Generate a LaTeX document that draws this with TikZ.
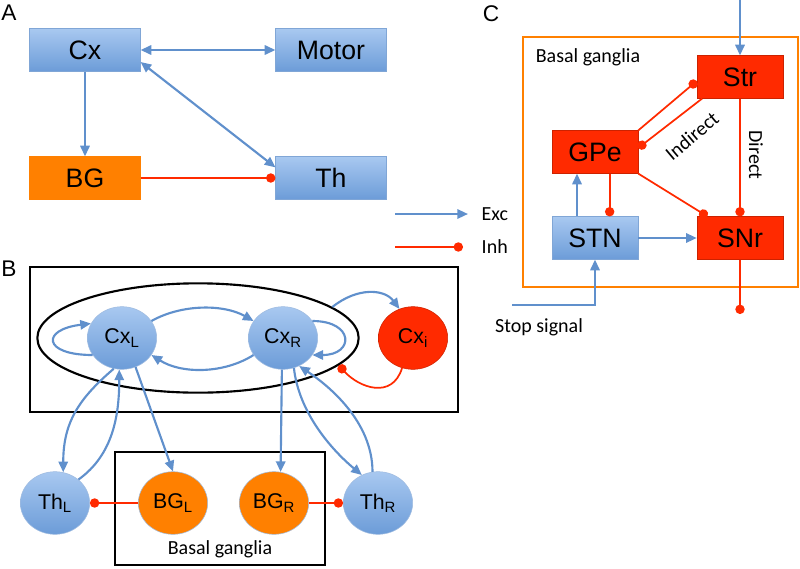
\documentclass[tikz,border=0pt]{standalone}
\usepackage{fontspec}
\setmainfont{Liberation Sans}
\newfontfamily\labelfont{Carlito}
\usetikzlibrary{arrows.meta,shapes.geometric}

\definecolor{boxblue}{RGB}{168,200,240}
\definecolor{boxbluedark}{RGB}{108,156,216}
\definecolor{lineblue}{RGB}{96,144,204}
\definecolor{inhred}{RGB}{255,42,0}
\definecolor{bgorange}{RGB}{255,128,0}

\tikzset{
  bluebox/.style={draw=lineblue!80,top color=boxblue,bottom color=boxbluedark,minimum width=83pt,minimum height=32pt,inner sep=0pt,font=\fontsize{20}{22}\selectfont},
  redbox/.style={bluebox,fill=inhred,top color=inhred,bottom color=inhred,draw=inhred!80!black},
  orangebox/.style={bluebox,top color=bgorange,bottom color=bgorange,draw=bgorange},
  cbox/.style={minimum width=64.5pt},
  bluecell/.style={ellipse,draw=lineblue!60,top color=boxblue,bottom color=boxbluedark,minimum width=52pt,minimum height=47pt,inner sep=0pt,font=\fontsize{16}{18}\selectfont},
  redcell/.style={bluecell,top color=inhred,bottom color=inhred,draw=inhred!80!black},
  orangecell/.style={bluecell,top color=bgorange,bottom color=bgorange,draw=lineblue!60},
  exc/.style={draw=lineblue,line width=1.6pt,-{Triangle[length=8pt,width=7pt]}},
  excboth/.style={exc,{Triangle[length=8pt,width=7pt]}-{Triangle[length=8pt,width=7pt]}},
  inh/.style={draw=inhred,line width=1.3pt,-{Circle[length=7pt]}},
  paneltag/.style={font=\fontsize{17}{19}\selectfont},
  gtext/.style={font=\labelfont\fontsize{15}{17}\selectfont}
}

\begin{document}
\begin{tikzpicture}[x=0.75pt,y=0.75pt,yscale=-1,xscale=1]
\useasboundingbox (0,0) rectangle (800,568);

%Panel A
\node[paneltag] (tagA) at (9,13) {A};
\node[bluebox] (Cx) at (85,50) {Cx};
\node[bluebox] (Motor) at (331,50) {Motor};
\node[orangebox] (BG) at (85,178) {BG};
\node[bluebox] (Th) at (331,178) {Th};
\draw[excboth] (Cx) -- (Motor);
\draw[excboth] ([yshift=9pt]Cx.east) -- ([yshift=-8pt]Th.west);
\draw[exc] (Cx) -- (BG);
\draw[inh] (BG) -- (Th);

%Legend
\coordinate (exc0) at (395,214);
\coordinate (exc1) at (468,214);
\coordinate (inh0) at (395,247);
\coordinate (inh1) at (463,247);
\draw[exc] (exc0) -- (exc1);
\draw[inh] (inh0) -- (inh1);
\node[gtext,anchor=west] (excname) at (477,214) {Exc};
\node[gtext,anchor=west] (inhname) at (477,247) {Inh};

%Panel B
\node[paneltag] (tagB) at (9,269) {B};
\draw[line width=1.3pt] (30,267) rectangle (458,412);
\draw[line width=1.3pt] (115,452) rectangle (325,565);
\node[ellipse,draw,line width=1.6pt,minimum width=241pt,minimum height=82pt] (cortex) at (198,338) {};
\node[bluecell] (CxL) at (122,338) {Cx\textsubscript{L}};
\node[bluecell] (CxR) at (283,338) {Cx\textsubscript{R}};
\node[redcell] (Cxi) at (413,338) {Cx\textsubscript{i}};
\node[bluecell] (ThL) at (55,503) {Th\textsubscript{L}};
\node[orangecell] (BGL) at (173,503) {BG\textsubscript{L}};
\node[orangecell] (BGR) at (274,503) {BG\textsubscript{R}};
\node[bluecell] (ThR) at (378,503) {Th\textsubscript{R}};
\node[gtext] (bgname) at (220,549) {Basal ganglia};
%cortex loops
\draw[exc] (CxL.210) .. controls +(-50,0) and +(-50,6) .. (CxL.155);
\draw[exc] (CxL.30) .. controls +(30,-17) and +(-30,-17) .. (CxR.150);
\draw[exc] (CxR.210) .. controls +(-30,19) and +(30,19) .. (CxL.330);
\draw[exc] (CxR.30) .. controls +(42,0) and +(42,0) .. (CxR.330);
\draw[exc] (cortex.13) .. controls +(25,-20) and +(-15,-20) .. (Cxi.115);
\draw[inh] (Cxi.250) .. controls +(-10,32) and +(20,22) .. (cortex.-11);
%thalamus and basal ganglia
\draw[exc] (CxL.255) .. controls +(-35,30) and +(0,-50) .. (ThL.75);
\draw[exc] (ThL.45) .. controls +(35,-25) and +(0,45) .. (CxL.265);
\draw[exc] (CxL.295) -- (BGL.north);
\draw[exc] (CxR.268) -- (BGR.78);
\draw[exc] (CxR.290) .. controls +(5,45) and +(-30,-25) .. (ThR.120);
\draw[exc] (ThR.100) .. controls +(0,-50) and +(30,20) .. (CxR.300);
\draw[inh] (BGL) -- (ThL);
\draw[inh] (BGR) -- (ThR);

%Panel C
\node[paneltag] (tagC) at (491,14) {C};
\draw[draw=bgorange,line width=1.3pt] (523,37) rectangle (798,287);
\node[gtext] (bgtitle) at (588,57) {Basal ganglia};
\node[redbox,cbox] (Str) at (740,77) {Str};
\node[redbox,cbox] (GPe) at (595,152) {GPe};
\node[bluebox,cbox] (STN) at (595,238) {STN};
\node[redbox,cbox] (SNr) at (740,238) {SNr};
\coordinate (strin) at (740,0);
\coordinate (stop) at (512,305);
\coordinate (snrout) at (740,314);
\draw[exc] (strin) -- (Str);
\draw[inh] ([xshift=4pt]Str.south west) -- ([yshift=-3pt]GPe.east);
\draw[inh] (GPe.north east) -- ([yshift=3pt]Str.west);
\draw[inh] (GPe.south east) -- ([xshift=8pt]SNr.north west);
\draw[inh] (Str) -- (SNr);
\draw[inh] ([xshift=11pt]GPe.south) -- ([xshift=11pt]STN.north);
\draw[exc] ([xshift=-13.5pt]STN.north) -- ([xshift=-13.5pt]GPe.south);
\draw[exc] (STN) -- (SNr);
\draw[exc] (stop) -| (STN.south);
\draw[inh] (SNr) -- (snrout);
\node[gtext,rotate=40] (indirect) at (692,136) {Indirect};
\node[gtext,rotate=-90] (direct) at (756,155) {Direct};
\node[gtext] (stopname) at (539,327) {Stop signal};
\end{tikzpicture}
\end{document}
